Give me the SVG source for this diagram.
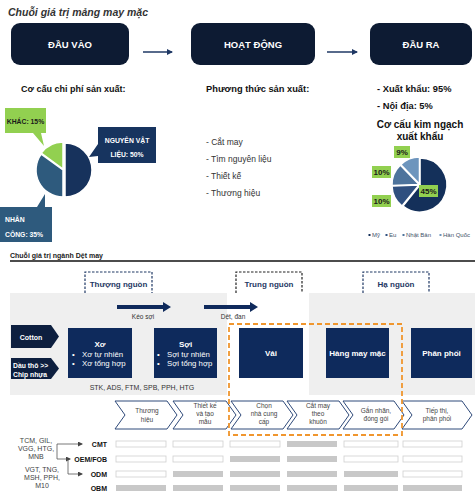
<svg xmlns="http://www.w3.org/2000/svg" width="475" height="500" viewBox="0 0 475 500">
<defs>
<style>
text{font-family:"Liberation Sans",Arial,sans-serif;}
.topbox{fill:#0d1b33;}
.toptxt{fill:#fff;font-size:9.5px;font-weight:bold;text-anchor:middle;}
.hdr{fill:#111;font-size:9px;font-weight:bold;}
.li{fill:#333;font-size:8.5px;}
.cl{font-size:6.8px;font-weight:bold;}
.pl{fill:#92d050;}
.plt{fill:#1a1a1a;font-size:8px;font-weight:bold;text-anchor:middle;}
.lg{fill:#44546a;font-size:6px;}
.dash{fill:none;stroke-width:1.2;stroke-dasharray:2.5 1.5;}
.stage{fill:#1f3864;font-size:8px;font-weight:bold;text-anchor:middle;}
.navy{fill:#0e2a5c;}
.bt{fill:#fff;font-size:8px;font-weight:bold;text-anchor:middle;}
.bl{fill:#fff;font-size:7.8px;}
.small{fill:#333;font-size:6.5px;text-anchor:middle;}
.chev{fill:#fff;stroke:#2f4a7a;stroke-width:1;}
.ct{fill:#444;font-size:6.5px;text-anchor:middle;}
.bw{fill:#fff;stroke:#cfcfcf;stroke-width:0.8;}
.bg{fill:#c8c8c8;}
.rl{fill:#111;font-size:7px;font-weight:bold;text-anchor:end;}
.co{fill:#444;font-size:7px;text-anchor:middle;}
.conn{fill:none;stroke:#555;stroke-width:0.8;}
.big{fill:#0f2a5c;}
</style>
<marker id="ah" markerWidth="6" markerHeight="6" refX="5" refY="3" orient="auto" markerUnits="userSpaceOnUse">
<path d="M0,0 L6,3 L0,6 Z" fill="#1f3864"/>
</marker>
<marker id="ah2" markerWidth="5" markerHeight="5" refX="4" refY="2.5" orient="auto" markerUnits="userSpaceOnUse">
<path d="M0,0 L5,2.5 L0,5 Z" fill="#444"/>
</marker>
</defs>
<rect width="475" height="500" fill="#fff"/>

<rect x="10" y="293" width="465" height="102" fill="#efefef"/>
<rect x="227" y="293" width="82" height="102" fill="#fff"/>

<text x="8" y="16" style="fill:#333;font-size:10.5px;font-weight:bold;font-style:italic;">Chuỗi giá trị mảng may mặc</text>

<g id="dau-vao"><rect class="topbox" x="11" y="23" width="118" height="42" rx="9"/><text class="toptxt" x="70" y="47.5">ĐẦU VÀO</text></g>
<g id="hoat-dong"><rect class="topbox" x="191" y="23" width="124" height="42" rx="9"/><text class="toptxt" x="253" y="47.5">HOẠT ĐỘNG</text></g>
<g id="dau-ra"><rect class="topbox" x="370" y="23" width="102" height="42" rx="9"/><text class="toptxt" x="421" y="47.5">ĐẦU RA</text></g>

<g id="connectors">
<line x1="143" y1="52" x2="172" y2="52" stroke="#1f3864" stroke-width="1.5" marker-end="url(#ah)"/>
<line x1="327" y1="52" x2="357" y2="52" stroke="#1f3864" stroke-width="1.5" marker-end="url(#ah)"/>
<polygon class="big" points="117,305 163,305 163,302 171,307 163,312 163,309 117,309"/>
<polygon class="big" points="204,305 250,305 250,302 258,307 250,312 250,309 204,309"/>
<polyline class="conn" points="57,459 57,444 82,444" marker-end="url(#ah2)"/>
<polyline class="conn" points="57,459 70,459" marker-end="url(#ah2)"/>
<polyline class="conn" points="68,459 68,474 82,474" marker-end="url(#ah2)"/>
</g>

<g id="input-cost">
<text class="hdr" x="21" y="92">Cơ cấu chi phí sản xuất:</text>
<g stroke="#fff" stroke-width="1.5">
<path d="M65,170 L65,143 A27,27 0 0 1 65,197 Z" fill="#17325c"/>
<path d="M63,170 L63,197 A27,27 0 0 1 41.2,154.1 Z" fill="#2e5a7d"/>
<path d="M63,169 L41.2,153.1 A27,27 0 0 1 63,142 Z" fill="#92d050"/>
</g>
<path d="M5,108 H46 V133 H41 L44,146 L33,133 H5 Z" fill="#92d050"/>
<text class="cl" x="25.5" y="124" text-anchor="middle" fill="#1a1a1a">KHÁC: 15%</text>
<path d="M98,127 H156 V163 H98 V156 L89,157 L98,144 Z" fill="#17345f"/>
<text class="cl" x="127" y="142.5" text-anchor="middle" fill="#fff">NGUYÊN VẬT</text>
<text class="cl" x="127" y="156.5" text-anchor="middle" fill="#fff">LIỆU: 50%</text>
<path d="M0,207 H37 L45,194 L45,207 H52 V242 H0 Z" fill="#2e5a7d"/>
<text class="cl" x="5" y="221.5" fill="#fff">NHÂN</text>
<text class="cl" x="5" y="236.5" fill="#fff">CÔNG: 35%</text>
</g>

<g id="methods">
<text class="hdr" x="206" y="92" style="font-size:9.3px">Phương thức sản xuất:</text>
<text class="li" x="206" y="145">- Cắt may</text>
<text class="li" x="206" y="162">- Tìm nguyên liệu</text>
<text class="li" x="206" y="179">- Thiết kế</text>
<text class="li" x="206" y="196">- Thương hiệu</text>
</g>

<g id="output">
<text class="hdr" x="377" y="92" style="font-size:9.3px">- Xuất khẩu: 95%</text>
<text class="hdr" x="377" y="109" style="font-size:9.3px">- Nội địa: 5%</text>
<text x="420" y="128" text-anchor="middle" style="fill:#111;font-size:10px;font-weight:bold;">Cơ cấu kim ngạch</text>
<text x="420" y="139.5" text-anchor="middle" style="fill:#111;font-size:10px;font-weight:bold;">xuất khẩu</text>
<g stroke="#fff" stroke-width="1.5">
<path d="M420,185 L420,158 A27,27 0 1 1 403,206 Z" fill="#14305a"/>
<path d="M419,185 L402,206 A27,27 0 0 1 392,185.9 Z" fill="#2f4f7f"/>
<path d="M419,184.5 L392,185.4 A27,27 0 0 1 400.2,165.1 Z" fill="#4d739c"/>
<path d="M419.5,184 L400.7,164.6 A27,27 0 0 1 419.5,157 Z" fill="#6d95bd"/>
</g>
<rect class="pl" x="394" y="146" width="16" height="12"/><text class="plt" x="402" y="155">9%</text>
<rect class="pl" x="372" y="166" width="19" height="12"/><text class="plt" x="381.5" y="175">10%</text>
<rect class="pl" x="372" y="195" width="19" height="12"/><text class="plt" x="381.5" y="204">10%</text>
<rect class="pl" x="419" y="185" width="19" height="12"/><text class="plt" x="428.5" y="194">45%</text>
<rect x="368.5" y="234" width="2" height="2" fill="#14305a"/><text class="lg" x="372" y="237">Mỹ</text>
<rect x="385.5" y="234" width="2" height="2" fill="#2f4f7f"/><text class="lg" x="389" y="237">Eu</text>
<rect x="402.5" y="234" width="2" height="2" fill="#4d739c"/><text class="lg" x="406" y="237">Nhật Bản</text>
<rect x="439.5" y="234" width="2" height="2" fill="#6d95bd"/><text class="lg" x="443" y="237">Hàn Quốc</text>
</g>

<text x="10" y="257.5" style="fill:#222;font-size:7px;font-weight:bold;">Chuỗi giá trị ngành Dệt may</text>
<line x1="10" y1="261" x2="475" y2="261" stroke="#111" stroke-width="1.3"/>

<g id="thuong-nguon"><path class="dash" d="M85,293 V272 H152 V293" stroke="#1f3864"/><text class="stage" x="118.5" y="287">Thượng nguồn</text></g>
<g id="trung-nguon"><path class="dash" d="M236,293 V272 H302 V293" stroke="#222"/><text class="stage" x="269" y="287">Trung nguồn</text></g>
<g id="ha-nguon"><path class="dash" d="M363,293 V272 H429 V293" stroke="#1f3864"/><text class="stage" x="396" y="287">Hạ nguồn</text></g>

<text class="small" x="143" y="318.5">Kéo sợi</text>
<text class="small" x="233" y="318.5">Dệt, đan</text>

<g id="cotton"><polygon points="11,325 51,325 59,336.5 51,348 11,348" fill="#0d1f3f"/><text x="31" y="339.5" style="fill:#fff;font-size:7px;font-weight:bold;" text-anchor="middle">Cotton</text></g>
<g id="dau-tho"><polygon points="11,358 51,358 59,368.5 51,379 11,379" fill="#0d1f3f"/><text x="13" y="368" style="fill:#fff;font-size:6.8px;font-weight:bold;">Dầu thô &gt;&gt;</text><text x="13" y="377" style="fill:#fff;font-size:6.8px;font-weight:bold;">Chip nhựa</text></g>

<g id="xo"><rect class="navy" x="68" y="328" width="64" height="50"/><text class="bt" x="100" y="347">Xơ</text>
<text class="bl" x="72" y="357">•</text><text class="bl" x="82" y="357">Xơ tự nhiên</text>
<text class="bl" x="72" y="366">•</text><text class="bl" x="82" y="366">Xơ tổng hợp</text></g>
<g id="soi"><rect class="navy" x="154" y="328" width="63" height="50"/><text class="bt" x="185.5" y="347">Sợi</text>
<text class="bl" x="157" y="357">•</text><text class="bl" x="167" y="357">Sợi tự nhiên</text>
<text class="bl" x="157" y="366">•</text><text class="bl" x="167" y="366">Sợi tổng hợp</text></g>
<g id="vai"><rect class="navy" x="239" y="328" width="64" height="50"/><text class="bt" x="271" y="356">Vải</text></g>
<g id="hang-may-mac"><rect class="navy" x="326" y="328" width="63" height="50"/><text class="bt" x="357.5" y="356">Hàng may mặc</text></g>
<g id="phan-phoi"><rect class="navy" x="411" y="328" width="61" height="50"/><text class="bt" x="441.5" y="356">Phân phối</text></g>

<text x="142" y="389.5" style="fill:#333;font-size:7px;" text-anchor="middle">STK, ADS, FTM, SPB, PPH, HTG</text>

<g id="chev-thuong-hieu"><polygon class="chev" points="115,401 167,401 177,415 167,429 115,429 125,415"/><text class="ct" x="147" y="413">Thương</text><text class="ct" x="147" y="421.5">hiệu</text></g>
<g id="chev-thiet-ke"><polygon class="chev" points="173,401 226,401 236,415 226,429 173,429 183,415"/><text class="ct" x="205" y="408">Thiết kế</text><text class="ct" x="205" y="416">và tạo</text><text class="ct" x="205" y="424">mẫu</text></g>
<g id="chev-chon-ncc"><polygon class="chev" points="231,401 283,401 293,415 283,429 231,429 241,415"/><text class="ct" x="264" y="408">Chọn</text><text class="ct" x="264" y="416">nhà cung</text><text class="ct" x="264" y="424">cấp</text></g>
<g id="chev-cat-may"><polygon class="chev" points="287,401 339,401 349,415 339,429 287,429 297,415"/><text class="ct" x="318" y="408">Cắt may</text><text class="ct" x="318" y="416">theo</text><text class="ct" x="318" y="424">khuôn</text></g>
<g id="chev-gan-nhan"><polygon class="chev" points="343,401 394,401 404,415 394,429 343,429 353,415"/><text class="ct" x="376" y="413">Gắn nhãn,</text><text class="ct" x="376" y="421">đóng gói</text></g>
<g id="chev-tiep-thi"><polygon class="chev" points="402,401 462,401 472,415 462,429 402,429 412,415"/><text class="ct" x="437" y="413">Tiếp thị,</text><text class="ct" x="437" y="421">phân phối</text></g>

<rect x="229" y="324" width="173" height="111" fill="none" stroke="#f0962e" stroke-width="1.8" stroke-dasharray="5 3"/>

<g id="grid">
<rect class="bw" x="116" y="441" width="50" height="6"/><rect class="bw" x="173" y="441" width="50" height="6"/><rect class="bw" x="230" y="441" width="50" height="6"/><rect class="bg" x="287" y="441" width="50" height="6"/><rect class="bw" x="344" y="441" width="54" height="6"/><rect class="bw" x="403" y="441" width="59" height="6"/>
<rect class="bw" x="116" y="456" width="50" height="6"/><rect class="bw" x="173" y="456" width="50" height="6"/><rect class="bg" x="230" y="456" width="50" height="6"/><rect class="bg" x="287" y="456" width="50" height="6"/><rect class="bw" x="344" y="456" width="54" height="6"/><rect class="bw" x="403" y="456" width="59" height="6"/>
<rect class="bw" x="116" y="471" width="50" height="6"/><rect class="bg" x="173" y="471" width="50" height="6"/><rect class="bg" x="230" y="471" width="50" height="6"/><rect class="bg" x="287" y="471" width="50" height="6"/><rect class="bg" x="344" y="471" width="54" height="6"/><rect class="bw" x="403" y="471" width="59" height="6"/>
<rect class="bg" x="116" y="485" width="50" height="6"/><rect class="bg" x="173" y="485" width="50" height="6"/><rect class="bg" x="230" y="485" width="50" height="6"/><rect class="bg" x="287" y="485" width="50" height="6"/><rect class="bg" x="344" y="485" width="54" height="6"/><rect class="bg" x="403" y="485" width="59" height="6"/>
</g>

<g id="row-cmt"><text class="rl" x="107" y="446.5">CMT</text></g>
<g id="row-oem"><text class="rl" x="107" y="461.5">OEM/FOB</text></g>
<g id="row-odm"><text class="rl" x="107" y="476.5">ODM</text></g>
<g id="row-obm"><text class="rl" x="107" y="490.5">OBM</text></g>

<g id="companies-1"><text class="co" x="36" y="442.5">TCM, GIL,</text><text class="co" x="36" y="450.5">VGG, HTG,</text><text class="co" x="36" y="458.5">MNB</text></g>
<g id="companies-2"><text class="co" x="42" y="471.5">VGT, TNG,</text><text class="co" x="42" y="479.5">MSH, PPH,</text><text class="co" x="42" y="488">M10</text></g>
</svg>
